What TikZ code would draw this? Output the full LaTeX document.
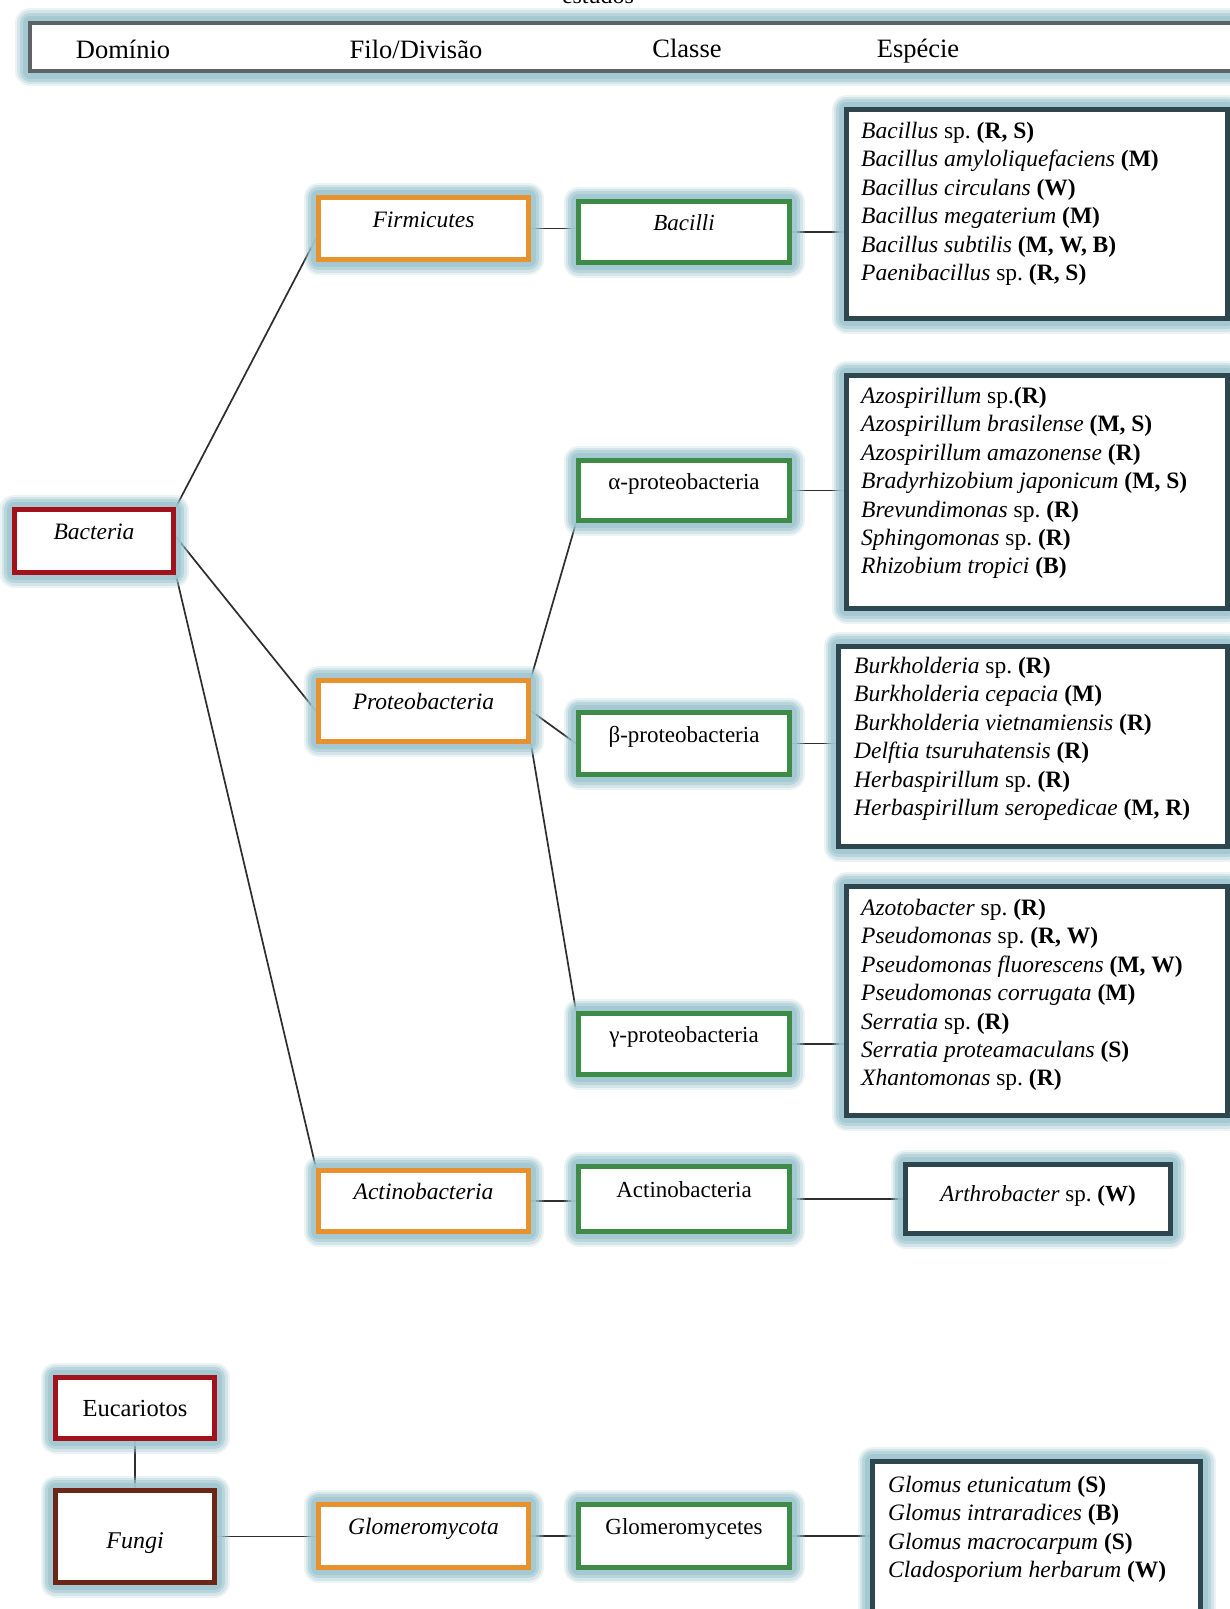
\documentclass[tikz,border=0pt]{standalone}
\usepackage{fontspec}
\setmainfont{Liberation Serif}
\usetikzlibrary{calc}
\pgfdeclarelayer{bg}
\pgfsetlayers{bg,main}
\frenchspacing
\definecolor{glowc}{HTML}{9FC7D0}
\definecolor{orangec}{HTML}{E8912F}
\definecolor{greenc}{HTML}{3E8A47}
\definecolor{redc}{HTML}{A3111B}
\definecolor{brownc}{HTML}{6B2616}
\definecolor{slatec}{HTML}{2E474E}
\definecolor{headc}{HTML}{5E6366}
\definecolor{linec}{HTML}{2E2E2E}
\newcommand\fsz[2]{\fontsize{#1}{#2}\selectfont}
\newcommand\spi[1]{\textit{#1}}
\newcommand\tagb[1]{\textbf{#1}}
\tikzset{
 glowbox/.style={fill=white, line width=5pt, outer sep=2.5pt, inner sep=0pt, anchor=north west,
   preaction={draw=glowc, line width=30pt, line join=round, draw opacity=0.2},
   preaction={draw=glowc, line width=26pt, line join=round, draw opacity=0.3},
   preaction={draw=glowc, line width=21pt, line join=round, draw opacity=0.5},
   preaction={draw=glowc, line width=15pt, line join=round, draw opacity=0.8}},
 phybox/.style={glowbox, draw=orangec, minimum width=210pt, minimum height=62pt, font=\fsz{23.5}{28}\itshape, text height=16pt, text depth=19pt},
 clsbox/.style={glowbox, draw=greenc, minimum width=211pt, minimum height=61pt, font=\fsz{23}{28}, text height=16pt, text depth=19pt},
 spbox/.style={glowbox, draw=slatec},
 splist/.style={anchor=north west, align=left, inner sep=0pt, font=\fsz{23.5}{28.4}},
 hdtext/.style={anchor=base, font=\fsz{26.5}{30}},
 link/.style={draw=linec, line width=1.7pt}
}
\begin{document}
\begin{tikzpicture}[x=1pt,y=-1pt]
\useasboundingbox (0,0) rectangle (1230,1609);

% top cut caption
\node[anchor=base, font=\fsz{24}{28}] (est) at (598,3) {estudos};

% header
\node[glowbox, draw=headc, line width=4pt, outer sep=2pt, minimum width=1210pt, minimum height=48pt] (head) at (28,21) {};
\node[hdtext] (hdom) at (123,58) {Domínio};
\node[hdtext] (hfilo) at (416,58) {Filo/Divisão};
\node[hdtext] (hcls) at (687,57) {Classe};
\node[hdtext] (hesp) at (918,57) {Espécie};

% domain
\node[glowbox, draw=redc, minimum width=159pt, minimum height=63pt, font=\fsz{23.5}{28}\itshape, text height=16pt, text depth=19pt] (bact) at (12,507) {Bacteria};

% phyla
\node[phybox] (firm) at (316,195) {Firmicutes};
\node[phybox, minimum height=61pt] (proteo) at (316,678) {Proteobacteria};
\node[phybox, minimum height=61pt] (actp) at (316,1168) {Actinobacteria};

% classes
\node[clsbox] (bacilli) at (576,199) {\itshape Bacilli};
\node[clsbox, minimum height=60pt] (alpha) at (576,458) {α-proteobacteria};
\node[clsbox, minimum height=62pt] (beta) at (576,710) {β-proteobacteria};
\node[clsbox] (gamma) at (576,1011) {γ-proteobacteria};
\node[clsbox, minimum height=65pt] (actc) at (576,1164) {Actinobacteria};

% species boxes
\node[spbox, minimum width=381pt, minimum height=209pt] (bacsp) at (844,107) {};
\node[splist] (bacspt) at (861,122) {\spi{Bacillus} sp. \tagb{(R, S)}\\
\spi{Bacillus amyloliquefaciens} \tagb{(M)}\\
\spi{Bacillus circulans} \tagb{(W)}\\
\spi{Bacillus megaterium} \tagb{(M)}\\
\spi{Bacillus subtilis} \tagb{(M, W, B)}\\
\spi{Paenibacillus} sp. \tagb{(R, S)}};

\node[spbox, minimum width=381pt, minimum height=233pt] (alphasp) at (844,373) {};
\node[splist] (alphaspt) at (861,387) {\spi{Azospirillum} sp.\tagb{(R)}\\
\spi{Azospirillum brasilense} \tagb{(M, S)}\\
\spi{Azospirillum amazonense} \tagb{(R)}\\
\spi{Bradyrhizobium japonicum} \tagb{(M, S)}\\
\spi{Brevundimonas} sp. \tagb{(R)}\\
\spi{Sphingomonas} sp. \tagb{(R)}\\
\spi{Rhizobium tropici} \tagb{(B)}};

\node[spbox, minimum width=389pt, minimum height=200pt] (betasp) at (836,644) {};
\node[splist] (betaspt) at (854,657) {\spi{Burkholderia} sp. \tagb{(R)}\\
\spi{Burkholderia cepacia} \tagb{(M)}\\
\spi{Burkholderia vietnamiensis} \tagb{(R)}\\
\spi{Delftia tsuruhatensis} \tagb{(R)}\\
\spi{Herbaspirillum} sp. \tagb{(R)}\\
\spi{Herbaspirillum seropedicae} \tagb{(M, R)}};

\node[spbox, minimum width=381pt, minimum height=229pt] (gammasp) at (844,884) {};
\node[splist] (gammaspt) at (861,899) {\spi{Azotobacter} sp. \tagb{(R)}\\
\spi{Pseudomonas} sp. \tagb{(R, W)}\\
\spi{Pseudomonas fluorescens} \tagb{(M, W)}\\
\spi{Pseudomonas corrugata} \tagb{(M)}\\
\spi{Serratia} sp. \tagb{(R)}\\
\spi{Serratia proteamaculans} \tagb{(S)}\\
\spi{Xhantomonas} sp. \tagb{(R)}};

\node[spbox, minimum width=265pt, minimum height=69pt, font=\fsz{23}{28}, text height=16pt, text depth=12pt] (arth) at (903,1162) {\spi{Arthrobacter} sp. \tagb{(W)}};

% eukaryotes
\node[glowbox, draw=redc, minimum width=159pt, minimum height=61pt, font=\fsz{24.5}{28}, text height=16pt, text depth=0pt] (euc) at (53,1375) {Eucariotos};
\node[glowbox, draw=brownc, minimum width=159pt, minimum height=92pt, font=\fsz{24}{28}\itshape, text height=23pt, text depth=0pt] (fungi) at (53,1488) {Fungi};
\node[phybox, minimum height=63pt] (glomp) at (316,1502) {Glomeromycota};
\node[clsbox, minimum height=63pt] (glomc) at (576,1502) {Glomeromycetes};
\node[spbox, minimum width=328pt, minimum height=166pt] (glomsp) at (870,1459) {};
\node[splist] (glomspt) at (888,1476) {\spi{Glomus etunicatum} \tagb{(S)}\\
\spi{Glomus intraradices} \tagb{(B)}\\
\spi{Glomus macrocarpum} \tagb{(S)}\\
\spi{Cladosporium herbarum} \tagb{(W)}};

% connectors (behind the glows)
\begin{pgfonlayer}{bg}
\fill[white] (0,0) rectangle (1230,1609);
\draw[link] (bact.north east) -- ([yshift=-10pt]firm.west);
\draw[link] ([yshift=4pt]bact.east) -- (proteo.west);
\draw[link] (bact.south east) -- (actp.north west);
\draw[link] (firm.east) -- (firm.east -| bacilli.west);
\draw[link] (bacilli.east) -- (bacilli.east -| bacsp.west);
\draw[link] (proteo.north east) -- (alpha.south west);
\draw[link] (proteo.east) -- (beta.west);
\draw[link] (proteo.south east) -- (gamma.north west);
\draw[link] (alpha.east) -- (alpha.east -| alphasp.west);
\draw[link] (beta.east) -- (beta.east -| betasp.west);
\draw[link] (gamma.east) -- (gamma.east -| gammasp.west);
\draw[link] (actp.east) -- (actp.east -| actc.west);
\draw[link] (actc.east) -- (actc.east -| arth.west);
\draw[link] (euc.south) -- (fungi.north);
\draw[link] (fungi.east) -- (fungi.east -| glomp.west);
\draw[link] (glomp.east) -- (glomp.east -| glomc.west);
\draw[link] (glomc.east) -- (glomc.east -| glomsp.west);
\end{pgfonlayer}
\end{tikzpicture}
\end{document}
